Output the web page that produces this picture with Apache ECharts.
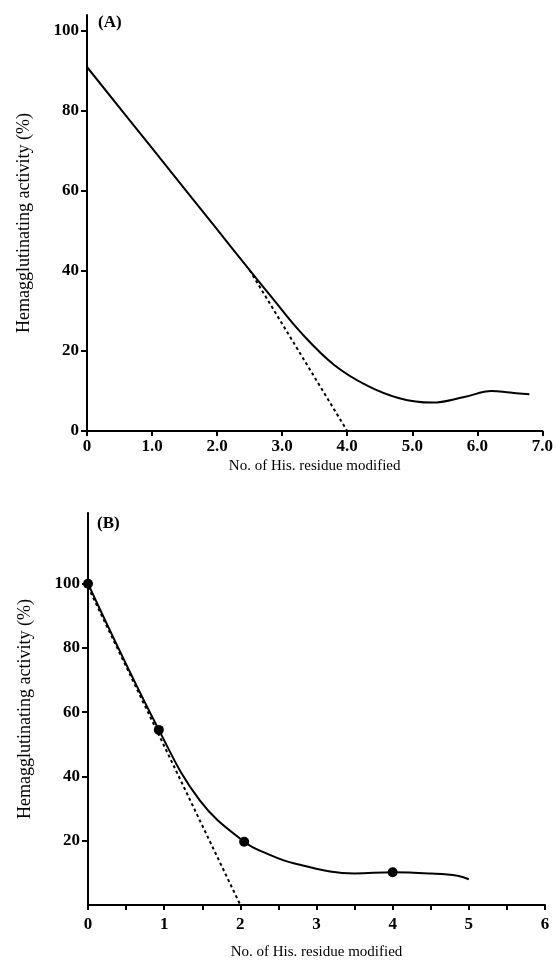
<!DOCTYPE html>
<html>
<head>
<meta charset="utf-8">
<script src="https://cdn.jsdelivr.net/npm/echarts@6/dist/echarts.min.js"></script>
<style>html,body{margin:0;padding:0;background:#fff;}#c{width:556px;height:966px;}</style>
</head>
<body>
<div id="c"></div>
<script>
// Panel A
const xTicksA = [0, 1, 2, 3, 4, 5, 6, 7];
const yTicksA = [0, 20, 40, 60, 80, 100];
const curveA = [[0, 91], [1.0, 70.7], [2.0, 50.4], [2.5, 40.2], [2.85, 33.2], [3.3, 24.4], [3.8, 16.5], [4.3, 11.4], [4.8, 8.2], [5.3, 7.1], [5.8, 8.5], [6.22, 10.0], [6.5, 9.6], [6.8, 9.2]];
const extrapA = [[2.5, 40.2], [4.0, 0]];
// Panel B
const xTicksB = [0, 0.5, 1, 1.5, 2, 2.5, 3, 3.5, 4, 4.5, 5, 5.5, 6];
const xLabelsB = [0, 1, 2, 3, 4, 5, 6];
const yTicksB = [20, 40, 60, 80, 100];
const pointsB = [[0, 100], [0.93, 54.5], [2.05, 19.7], [4.0, 10.2]];
const curveB = [[0, 100], [0.93, 54.5], [1.47, 32.5], [2.05, 19.7], [2.35, 16.0], [2.7, 13.0], [3.5, 9.8], [4.0, 10.2], [4.5, 9.8], [4.85, 9.1], [5.0, 8.0]];
const extrapB = [[0, 99], [2.0, 0]];

const FONT = 'Liberation Serif';
const txt = '#000';
function axisCommon() {
  return {
    axisLine: { show: true, onZero: false, lineStyle: { color: '#000', width: 2 } },
    splitLine: { show: false },
    nameTextStyle: { fontFamily: FONT, fontSize: 15, color: txt }
  };
}

const chart = echarts.init(document.getElementById('c'), null, { renderer: 'canvas' });
chart.setOption({
  backgroundColor: '#fff',
  animation: false,
  grid: [
    { left: 87, right: 11, top: 15, bottom: 535 },
    { left: 88, right: 11, top: 513, bottom: 61 }
  ],
  xAxis: [
    Object.assign(axisCommon(), {
      type: 'value', gridIndex: 0, min: 0, max: 7,
      name: 'No. of His. residue modified', nameLocation: 'middle', nameGap: 28,
      axisTick: { show: true, length: 5, lineStyle: { color: '#000', width: 2 }, customValues: xTicksA },
      axisLabel: { margin: 7, fontFamily: FONT, fontSize: 17, fontWeight: 'bold', color: txt, customValues: xTicksA,
        formatter: v => v === 0 ? '0' : v.toFixed(1) }
    }),
    Object.assign(axisCommon(), {
      type: 'value', gridIndex: 1, min: 0, max: 6,
      name: 'No. of His. residue modified', nameLocation: 'middle', nameGap: 40,
      axisTick: { show: true, length: 5, lineStyle: { color: '#000', width: 2 }, customValues: xTicksB },
      axisLabel: { margin: 11, fontFamily: FONT, fontSize: 17, fontWeight: 'bold', color: txt, customValues: xLabelsB,
        formatter: v => String(v) }
    })
  ],
  yAxis: [
    Object.assign(axisCommon(), {
      type: 'value', gridIndex: 0, min: 0, max: 104,
      name: 'Hemagglutinating activity (%)', nameLocation: 'middle', nameGap: 54, nameRotate: 90,
      nameTextStyle: { fontFamily: FONT, fontSize: 18, color: txt },
      axisTick: { show: true, length: 6, lineStyle: { color: '#000', width: 2 }, customValues: yTicksA },
      axisLabel: { margin: 8, fontFamily: FONT, fontSize: 17, fontWeight: 'bold', color: txt, customValues: yTicksA }
    }),
    Object.assign(axisCommon(), {
      type: 'value', gridIndex: 1, min: 0, max: 122,
      name: 'Hemagglutinating activity (%)', nameLocation: 'middle', nameGap: 54, nameRotate: 90,
      nameTextStyle: { fontFamily: FONT, fontSize: 18, color: txt },
      axisTick: { show: true, length: 6, lineStyle: { color: '#000', width: 2 }, customValues: yTicksB },
      axisLabel: { margin: 8, fontFamily: FONT, fontSize: 17, fontWeight: 'bold', color: txt, customValues: yTicksB }
    })
  ],
  graphic: [
    { type: 'text', left: 98, top: 14, style: { text: '(A)', font: 'bold 17px "Liberation Serif"', fill: '#000' } },
    { type: 'text', left: 97, top: 515, style: { text: '(B)', font: 'bold 17px "Liberation Serif"', fill: '#000' } }
  ],
  series: [
    { type: 'line', xAxisIndex: 0, yAxisIndex: 0, data: curveA, smooth: 0.4, showSymbol: false,
      lineStyle: { color: '#000', width: 2 } },
    { type: 'line', xAxisIndex: 0, yAxisIndex: 0, data: extrapA, showSymbol: false,
      lineStyle: { color: '#000', width: 2, type: [3, 3] } },
    { type: 'line', xAxisIndex: 1, yAxisIndex: 1, data: curveB, smooth: 0.4, showSymbol: false,
      lineStyle: { color: '#000', width: 2 } },
    { type: 'line', xAxisIndex: 1, yAxisIndex: 1, data: extrapB, showSymbol: false,
      lineStyle: { color: '#000', width: 2, type: [3, 3] } },
    { type: 'scatter', xAxisIndex: 1, yAxisIndex: 1, data: pointsB, symbol: 'circle', symbolSize: 10,
      itemStyle: { color: '#000', opacity: 1 }, z: 5 }
  ]
});
</script>
</body>
</html>
